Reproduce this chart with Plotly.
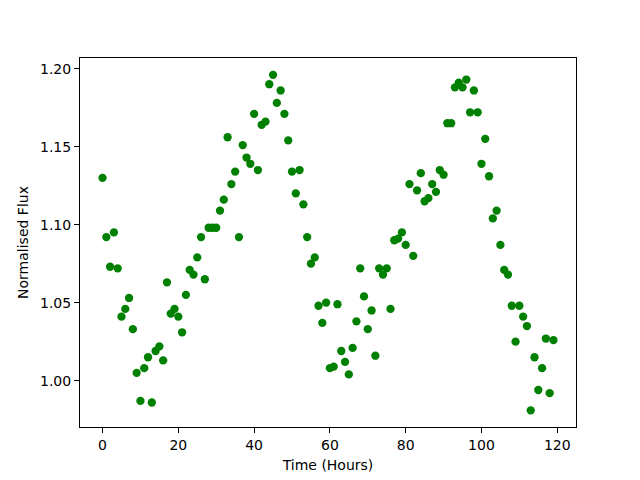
import plotly.graph_objects as go

time_hours = list(range(120))
flux = [
    1.130, 1.092, 1.073, 1.095, 1.072, 1.041, 1.046, 1.053, 1.033, 1.005,
    0.987, 1.008, 1.015, 0.986, 1.019, 1.022, 1.013, 1.063, 1.043, 1.046,
    1.041, 1.031, 1.055, 1.071, 1.068, 1.079, 1.092, 1.065, 1.098, 1.098,
    1.098, 1.109, 1.116, 1.156, 1.126, 1.134, 1.092, 1.151, 1.143, 1.139,
    1.171, 1.135, 1.164, 1.166, 1.190, 1.196, 1.178, 1.186, 1.171, 1.154,
    1.134, 1.120, 1.135, 1.113, 1.092, 1.075, 1.079, 1.048, 1.037, 1.050,
    1.008, 1.009, 1.049, 1.019, 1.012, 1.004, 1.021, 1.038, 1.072, 1.054,
    1.033, 1.045, 1.016, 1.072, 1.068, 1.072, 1.046, 1.090, 1.091, 1.095,
    1.087, 1.126, 1.080, 1.122, 1.133, 1.115, 1.117, 1.126, 1.121, 1.135,
    1.132, 1.165, 1.165, 1.188, 1.191, 1.188, 1.193, 1.172, 1.186, 1.172,
    1.139, 1.155, 1.131, 1.104, 1.109, 1.087, 1.071, 1.068, 1.048, 1.025,
    1.048, 1.041, 1.035, 0.981, 1.015, 0.994, 1.008, 1.027, 0.992, 1.026,
]
x_ticks = [0, 20, 40, 60, 80, 100, 120]
y_ticks = [1.00, 1.05, 1.10, 1.15, 1.20]

fig = go.Figure(go.Scatter(
    x=time_hours, y=flux, mode="markers",
    marker=dict(color="#008000", size=8.3, line=dict(width=0)),
))

axis_common = dict(
    showline=True, linecolor="black", linewidth=1, mirror=True,
    ticks="outside", ticklen=5, tickwidth=1, tickcolor="black",
    showgrid=False, zeroline=False,
    tickfont=dict(family="DejaVu Sans", size=14, color="black"),
)

fig.update_layout(
    width=640, height=480,
    margin=dict(l=72, r=72, t=50, b=61),
    paper_bgcolor="white", plot_bgcolor="white",
    showlegend=False,
    font=dict(family="DejaVu Sans", size=14, color="black"),
    xaxis=dict(range=[-5.95, 124.95], tickvals=x_ticks,
               title=dict(text="Time (Hours)", standoff=8,
                          font=dict(family="DejaVu Sans", size=14)),
               **axis_common),
    yaxis=dict(range=[0.9703, 1.2068], tickvals=y_ticks, tickformat=".2f",
               title=dict(text="Normalised Flux", standoff=8,
                          font=dict(family="DejaVu Sans", size=14)),
               **axis_common),
)

fig.write_html("out.html")
